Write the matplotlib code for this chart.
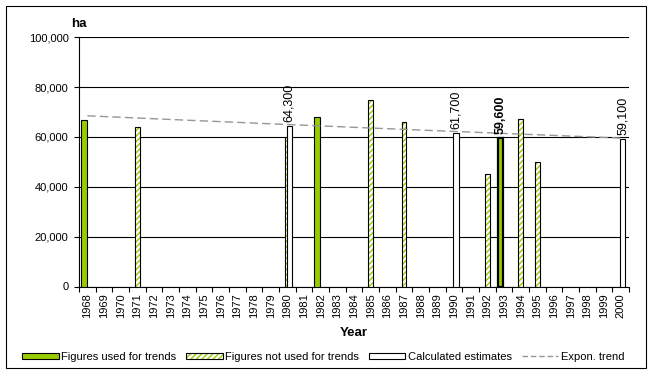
import numpy as np
import matplotlib
matplotlib.use("Agg")
import matplotlib.pyplot as plt
from matplotlib.patches import Rectangle, Patch
from matplotlib.lines import Line2D
from matplotlib.ticker import FuncFormatter

plt.rcParams['font.family'] = ['Liberation Sans', 'DejaVu Sans']
plt.rcParams['hatch.linewidth'] = 1.0

# ---- data ----
years = list(range(1968, 2001))
used_years = [1968, 1982, 1993]
used_vals = [66900, 68000, 59600]
notused_years = [1971, 1980, 1985, 1987, 1992, 1994, 1995]
notused_vals = [64000, 60000, 75000, 66000, 45000, 67200, 50000]
calc_years = [1980, 1990, 2000]
calc_vals = [64300, 61700, 59100]
highlight_year = 1993
y_ticks = [0, 20000, 40000, 60000, 80000, 100000]

GREEN = '#99CC00'
W, H = 656, 372
fig = plt.figure(figsize=(W / 100, H / 100), dpi=100)
ax = fig.add_axes([79 / W, 1 - 286.5 / H, 550 / W, (286.5 - 37.3) / H])

pos = {y: i for i, y in enumerate(years)}
ux = np.array([pos[y] for y in used_years])
nx = np.array([pos[y] for y in notused_years])
cx = np.array([pos[y] for y in calc_years])

# used-for-trends bars
lws = [1.6 if y == highlight_year else 0.8 for y in used_years]
ax.bar(ux - 0.21, used_vals, width=0.33, color=GREEN, edgecolor='black',
       linewidth=lws, zorder=3)
# not used bars (hatched)
ax.bar(nx, notused_vals, width=0.28, color='white', edgecolor=GREEN,
       hatch='//////', linewidth=0, zorder=3)
ax.bar(nx, notused_vals, width=0.28, fill=False, edgecolor='black',
       linewidth=0.8, zorder=3.1)
# calculated estimates
ax.bar(cx + 0.12, calc_vals, width=0.32, color='white', edgecolor='black',
       linewidth=0.8, zorder=3.2)

# exponential trend fitted to the figures used for trends
coef = np.polyfit(ux, np.log(used_vals), 1)
tx = np.arange(len(years))
ax.plot(tx, np.exp(np.polyval(coef, tx)), color='#969696', lw=1.0,
        dashes=(6, 3), zorder=4)

# data labels
for x, v in zip(cx, calc_vals):
    ax.annotate(f"{v:,}", (x + 0.12, v), xytext=(0, 3), textcoords='offset points',
                rotation=90, ha='center', va='bottom', fontsize=9, zorder=5)
for x, y, v in zip(ux, used_years, used_vals):
    if y == highlight_year:
        ax.annotate(f"{v:,}", (x - 0.21, v), xytext=(0, 3), textcoords='offset points',
                    rotation=90, ha='center', va='bottom', fontsize=9,
                    fontweight='bold', zorder=5)

# axes
ax.set_xlim(-0.5, len(years) - 0.5)
ax.set_ylim(0, 100000)
ax.set_yticks(y_ticks)
ax.yaxis.set_major_formatter(FuncFormatter(lambda v, p: f"{int(v):,}"))
ax.set_xticks(np.arange(len(years)))
ax.set_xticklabels([str(y) for y in years], rotation=90, fontsize=8)
ax.set_xticks(np.arange(-0.5, len(years)), minor=True)
ax.tick_params(axis='x', which='major', length=0, pad=5)
ax.tick_params(axis='x', which='minor', length=3.5, width=0.8, direction='out')
ax.tick_params(axis='y', length=3.5, width=0.8, direction='out', pad=4, labelsize=8)
for s in ['top', 'right']:
    ax.spines[s].set_visible(False)
for s in ['left', 'bottom']:
    ax.spines[s].set_linewidth(0.8)
ax.yaxis.grid(True, color='black', linewidth=0.8)
ax.set_axisbelow(True)
ax.set_xlabel('Year', fontsize=9.5, fontweight='bold', labelpad=6)

fig.text(71 / W, 1 - 24 / H, 'ha', fontsize=9.5, fontweight='bold',
         ha='left', va='center')

# legend
h_used = Patch(facecolor=GREEN, edgecolor='black', linewidth=0.8)
h_not = (Patch(facecolor='white', edgecolor=GREEN, hatch='//////', linewidth=0),
         Patch(fill=False, edgecolor='black', linewidth=0.8))
h_calc = Patch(facecolor='white', edgecolor='black', linewidth=0.8)
h_trend = Line2D([], [], color='#969696', lw=1.0, dashes=(4, 2))
fig.legend([h_used, h_not, h_calc, h_trend],
           ['Figures used for trends', 'Figures not used for trends',
            'Calculated estimates', 'Expon. trend'],
           loc='center left', bbox_to_anchor=(22 / W, 1 - 356.5 / H),
           ncol=4, frameon=False, fontsize=8, handlelength=3.3,
           handleheight=0.45, handletextpad=0.2, columnspacing=0.9,
           borderpad=0, borderaxespad=0)

fig.add_artist(Rectangle((5.5 / W, 1 - 367.5 / H), 640.5 / W, 362 / H,
                         transform=fig.transFigure, fill=False,
                         edgecolor='black', linewidth=0.8))

fig.savefig('out.png', dpi=100)
